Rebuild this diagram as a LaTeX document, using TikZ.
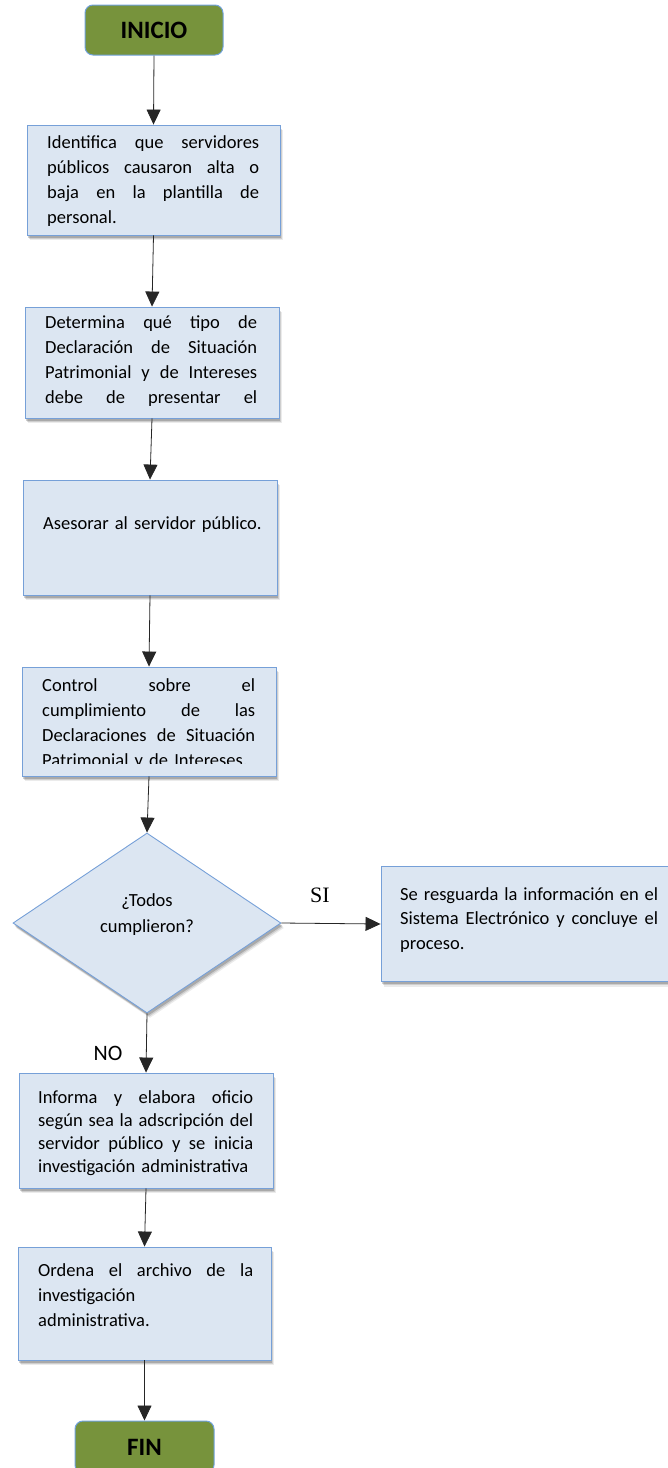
\documentclass[tikz,border=0pt]{standalone}
\usepackage{fontspec}
\setmainfont{Carlito}
\newfontfamily\sifont{Liberation Serif}
\usetikzlibrary{arrows.meta,shadows,shapes.geometric}
\definecolor{boxfill}{RGB}{220,230,242}
\definecolor{boxline}{RGB}{118,160,216}
\definecolor{termfill}{RGB}{119,147,60}
\definecolor{termline}{RGB}{112,162,220}
\newcommand\jline[2]{\leavevmode\hbox to #1{\spaceskip=\fontdimen2\font plus 1fil\relax\xspaceskip=\spaceskip #2}}
\begin{document}
\begin{tikzpicture}[x=1pt,y=-1pt,
  shade/.style={
    drop shadow={shadow xshift=3pt,shadow yshift=-5pt,fill=black,opacity=0.08},
    drop shadow={shadow xshift=2.2pt,shadow yshift=-3.8pt,fill=black,opacity=0.12},
    drop shadow={shadow xshift=1.4pt,shadow yshift=-2.6pt,fill=black,opacity=0.18}},
  procbox/.style={rectangle,draw=boxline,fill=boxfill,line width=0.9pt,inner sep=0pt,shade},
  termbox/.style={rectangle,draw=termline,fill=termfill,line width=1pt,rounded corners=8pt,inner sep=0pt,
     font=\fontsize{25}{30}\selectfont\bfseries},
  txt/.style={anchor=base west,inner sep=0pt,text width=262pt,align=left,
     font=\fontsize{18.5}{25}\selectfont},
  arr/.style={-{Triangle[length=15pt,width=14pt]},line width=0.8pt,draw=black!85},
  lbl/.style={inner sep=0pt,font=\fontsize{22}{26}\selectfont}]
\useasboundingbox (0,0) rectangle (668,1468);
\clip (0,0) rectangle (668,1468);

% terminals
\node[termbox,minimum width=138pt,minimum height=50pt] (ini) at (154,30) {INICIO};
\node[termbox,minimum width=139pt,minimum height=52pt] (fin) at (144.5,1447) {FIN};

% process boxes
\node[procbox,minimum width=253pt,minimum height=110pt] (b1) at (153.5,180) {};
\node[txt] (t1) at (47,148) {\jline{212pt}{Identifica que servidores}\\\jline{212pt}{públicos causaron alta o}\\\jline{212pt}{baja en la plantilla de}\\personal.};

\node[procbox,minimum width=254pt,minimum height=111pt] (b2) at (152,362.5) {};
\node[txt] (t2) at (45,328) {\jline{212pt}{Determina qué tipo de}\\\jline{212pt}{Declaración de Situación}\\\jline{212pt}{Patrimonial y de Intereses}\\\jline{212pt}{debe de presentar el}};

\node[procbox,minimum width=254pt,minimum height=115pt] (b3) at (150,537.5) {};
\node[txt] (t3) at (43,529) {Asesorar al servidor público.};

\node[procbox,minimum width=254pt,minimum height=109pt] (b4) at (149,721.5) {};
\begin{scope}
\clip (22,668) rectangle (276,763);
\node[txt] (t4) at (42,691) {\jline{213pt}{Control sobre el}\\\jline{213pt}{cumplimiento de las}\\\jline{213pt}{Declaraciones de Situación}\\Patrimonial y de Intereses.};
\end{scope}

% decision
\node[diamond,draw=boxline,fill=boxfill,line width=0.9pt,inner sep=0pt,minimum width=268pt,minimum height=180pt,shade] (dec) at (147,923) {};
\node[inner sep=0pt,align=center,font=\fontsize{18.5}{26}\selectfont] (dt) at (147,915) {¿Todos\\cumplieron?};

% SI branch box
\node[procbox,minimum width=299pt,minimum height=115pt] (si) at (530.5,924) {};
\node[txt,text width=280pt,font=\fontsize{18.5}{24.5}\selectfont] (tsi) at (400,900) {\jline{258pt}{Se resguarda la información en el}\\\jline{258pt}{Sistema Electrónico y concluye el}\\proceso.};

% NO branch boxes
\node[procbox,minimum width=254pt,minimum height=115pt] (b5) at (146,1130.5) {};
\node[txt,font=\fontsize{18.5}{23}\selectfont] (t5) at (38,1103) {\jline{215pt}{Informa y elabora oficio}\\\jline{215pt}{según sea la adscripción del}\\\jline{215pt}{servidor público y se inicia}\\investigación administrativa};

\node[procbox,minimum width=253pt,minimum height=113pt] (b6) at (144.5,1303.5) {};
\node[txt] (t6) at (38,1276) {\jline{215pt}{Ordena el archivo de la}\\investigación\\administrativa.};

% labels
\node[lbl,font=\fontsize{22}{26}\selectfont\sifont] (lsi) at (320,895) {SI};
\node[lbl] (lno) at (108,1053) {NO};

% connectors
\draw[arr] (ini.south) -- (b1.north);
\draw[arr] (b1.south) -- (b2.north);
\draw[arr] (b2.south) -- (b3.north);
\draw[arr] (b3.south) -- (b4.north);
\draw[arr] (b4.south) -- (dec.north);
\draw[arr] (dec.east) -- (si.west);
\draw[arr] (dec.south) -- (b5.north);
\draw[arr] (b5.south) -- (b6.north);
\draw[arr] (b6.south) -- (fin.north);
\end{tikzpicture}
\end{document}
